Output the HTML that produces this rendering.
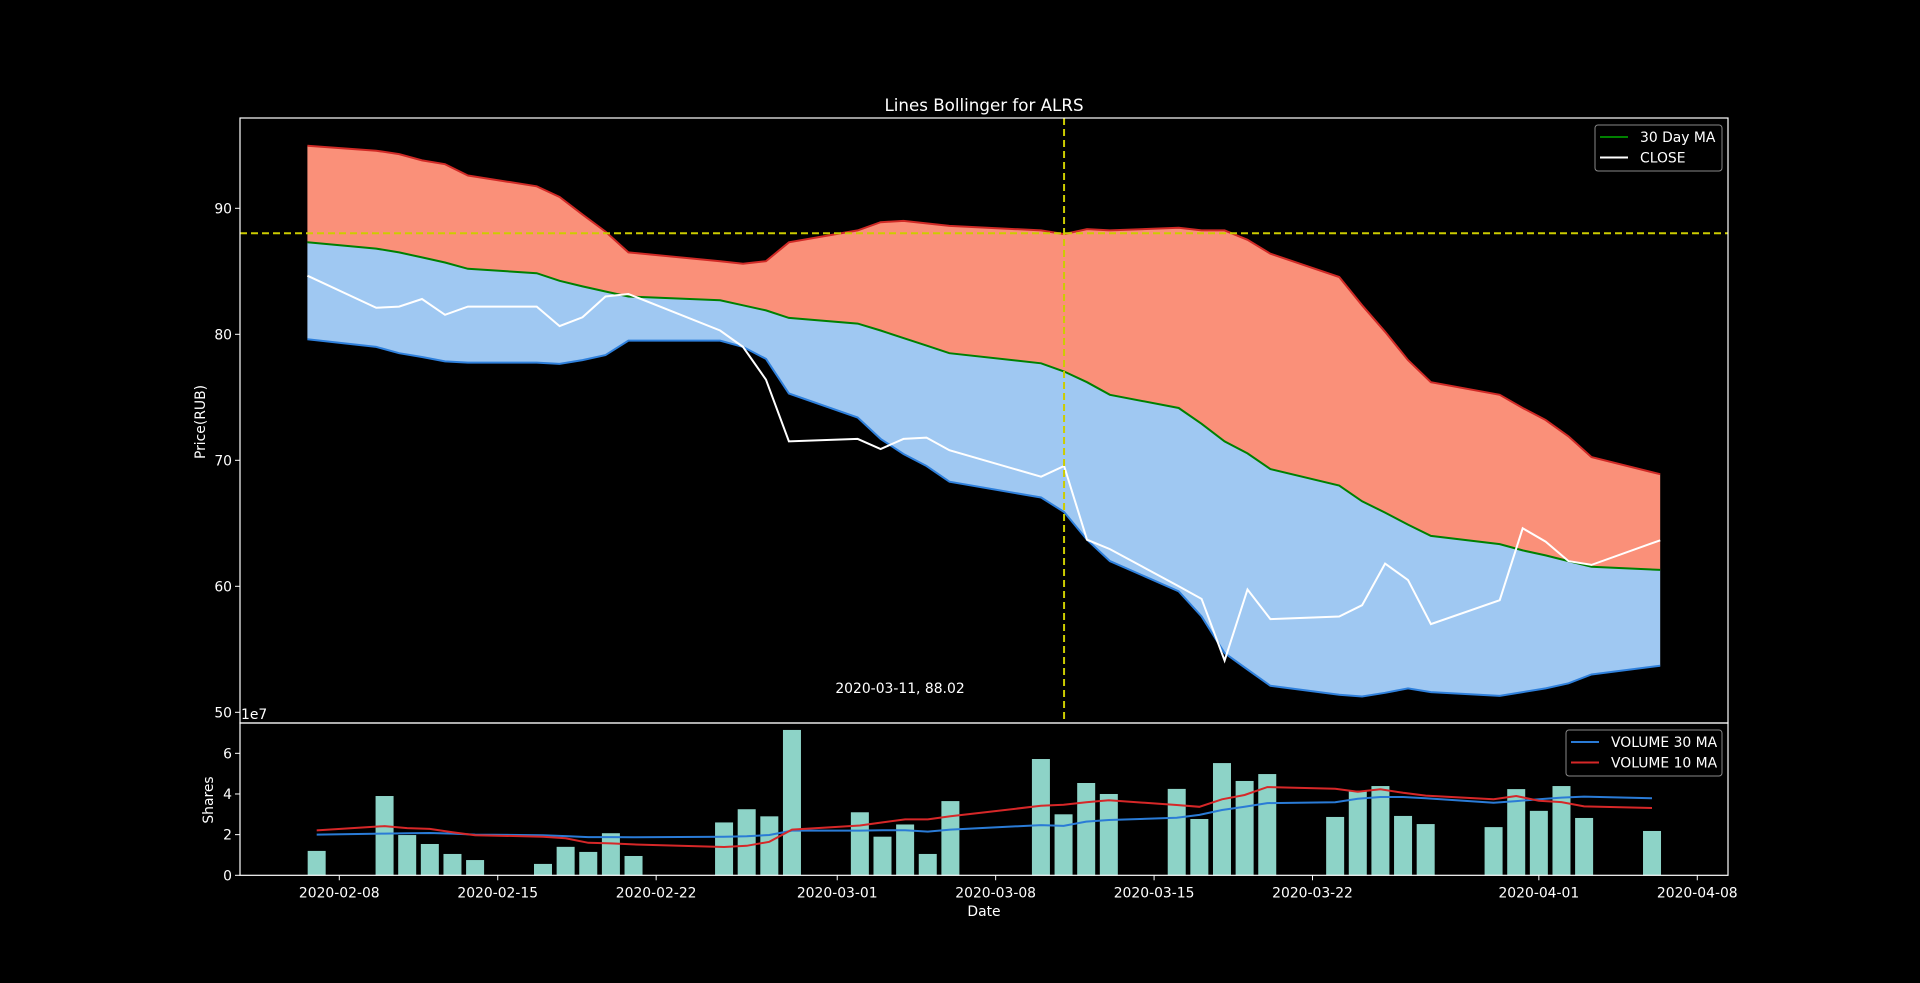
<!DOCTYPE html>
<html><head><meta charset="utf-8"><style>
html,body{margin:0;padding:0;background:#000;}
svg{display:block;font-family:"DejaVu Sans","Liberation Sans",sans-serif;}
</style></head><body>
<svg id="chart" width="1920" height="983" viewBox="0 0 1920 983" xmlns="http://www.w3.org/2000/svg">
<rect width="1920" height="983" fill="#000"/>
<g id="main"></g>
<g id="vol"></g>
<text x="984" y="111" fill="#fff" font-size="16.7" text-anchor="middle">Lines Bollinger for ALRS</text>
<text x="0" y="0" fill="#fff" font-size="13.9" text-anchor="middle" transform="translate(205,422) rotate(-90)">Price(RUB)</text>
<text x="0" y="0" fill="#fff" font-size="13.9" text-anchor="middle" transform="translate(213,800) rotate(-90)">Shares</text>
<text x="984" y="916" fill="#fff" font-size="13.9" text-anchor="middle">Date</text>
<text x="241" y="719" fill="#fff" font-size="13.9">1e7</text>
<text x="900" y="693" fill="#fff" font-size="13.9" text-anchor="middle">2020-03-11, 88.02</text>
</svg>
<script>
const dates=["2020-02-07","2020-02-10","2020-02-11","2020-02-12","2020-02-13","2020-02-14","2020-02-17","2020-02-18","2020-02-19","2020-02-20","2020-02-21","2020-02-25","2020-02-26","2020-02-27","2020-02-28","2020-03-02","2020-03-03","2020-03-04","2020-03-05","2020-03-06","2020-03-10","2020-03-11","2020-03-12","2020-03-13","2020-03-16","2020-03-17","2020-03-18","2020-03-19","2020-03-20","2020-03-23","2020-03-24","2020-03-25","2020-03-26","2020-03-27","2020-03-30","2020-03-31","2020-04-01","2020-04-02","2020-04-03","2020-04-06"];
const upper=[94.96,94.57,94.3,93.8,93.5,92.6,91.75,90.9,89.5,88.15,86.5,85.8,85.6,85.8,87.3,88.25,88.9,89.0,88.8,88.6,88.25,87.95,88.35,88.25,88.45,88.25,88.25,87.5,86.4,84.55,82.3,80.2,77.95,76.2,75.2,74.15,73.2,71.9,70.25,68.9];
const ma30=[87.3,86.8,86.5,86.1,85.7,85.2,84.85,84.25,83.8,83.4,83.0,82.7,82.3,81.9,81.3,80.85,80.3,79.7,79.1,78.5,77.7,77.05,76.2,75.2,74.15,72.9,71.5,70.55,69.3,68.0,66.75,65.85,64.9,64.0,63.35,62.85,62.45,62.0,61.55,61.3];
const lower=[79.6,79.0,78.5,78.2,77.85,77.75,77.75,77.65,77.95,78.35,79.5,79.5,79.0,78.05,75.3,73.4,71.7,70.5,69.55,68.3,67.05,65.9,63.7,62.0,59.6,57.6,54.7,53.4,52.1,51.4,51.25,51.55,51.9,51.6,51.3,51.6,51.9,52.3,53.0,53.7];
const closeP=[84.65,82.1,82.2,82.8,81.55,82.2,82.2,80.65,81.35,83.0,83.2,80.3,79.0,76.4,71.5,71.7,70.9,71.7,71.8,70.8,68.7,69.55,63.7,62.95,60.0,59.0,54.1,59.75,57.4,57.6,58.5,61.8,60.5,57.0,58.9,64.6,63.55,62.0,61.7,63.65];
const volume=[1.2,3.9,1.98,1.54,1.05,0.75,0.56,1.4,1.15,2.07,0.95,2.6,3.25,2.9,7.15,3.1,1.9,2.5,1.05,3.65,5.72,3.0,4.54,4.0,4.25,2.77,5.52,4.64,4.98,2.87,4.16,4.39,2.92,2.52,2.37,4.24,3.17,4.39,2.82,2.18];
const vol30=[2.0,2.05,2.07,2.08,2.05,2.0,1.97,1.93,1.88,1.88,1.87,1.9,1.92,1.98,2.2,2.2,2.22,2.22,2.15,2.25,2.47,2.43,2.64,2.72,2.83,2.97,3.21,3.37,3.55,3.59,3.77,3.85,3.85,3.79,3.57,3.65,3.74,3.82,3.87,3.79];
const vol10=[2.21,2.42,2.32,2.28,2.12,1.97,1.9,1.82,1.6,1.57,1.52,1.39,1.45,1.65,2.25,2.45,2.6,2.75,2.75,2.9,3.42,3.47,3.59,3.69,3.46,3.37,3.74,3.95,4.34,4.26,4.11,4.23,4.06,3.92,3.74,3.9,3.67,3.6,3.39,3.31];
const priceTicks=[50,60,70,80,90];
const volTicks=[0,2,4,6];
const dateTicks=["2020-02-08","2020-02-15","2020-02-22","2020-03-01","2020-03-08","2020-03-15","2020-03-22","2020-04-01","2020-04-08"];
const crossDate="2020-03-11", crossPrice=88.02;

const NS="http://www.w3.org/2000/svg";
const L=240,R=1728,T=118,MB=723,VB=875.3;
const base=Date.UTC(2020,1,8);
function dayOf(s){const p=s.split('-');return (Date.UTC(+p[0],+p[1]-1,+p[2])-base)/86400000;}
function X(s){return 339.3+dayOf(s)*22.633;}
function XP(s){return 330.3+dayOf(s)*22.93;}
function Y(v){return 208.3-(v-90)*12.6;}
function VY(v){return VB-v*20.33;}
function mk(tag,attrs,parent){const e=document.createElementNS(NS,tag);for(const k in attrs)e.setAttribute(k,attrs[k]);parent.appendChild(e);return e;}
const main=document.getElementById('main'), vol=document.getElementById('vol');
const pts=(arr,f,xf)=>arr.map((v,i)=>(xf||X)(dates[i]).toFixed(1)+','+f(v).toFixed(1));

let e=mk('polygon',{points:pts(upper,Y,XP).concat(pts(ma30,Y,XP).reverse()).join(' '),fill:'#fa9079'},main);


e=mk('polygon',{points:pts(ma30,Y,XP).concat(pts(lower,Y,XP).reverse()).join(' '),fill:'#9fc8f2'},main);


e=mk('polyline',{points:pts(upper,Y,XP).join(' '),fill:'none',stroke:'#d02a26','stroke-width':2},main);


e=mk('polyline',{points:pts(lower,Y,XP).join(' '),fill:'none',stroke:'#2f80dc','stroke-width':2},main);


e=mk('polyline',{points:pts(ma30,Y,XP).join(' '),fill:'none',stroke:'#008000','stroke-width':2},main);


e=mk('polyline',{points:pts(closeP,Y,XP).join(' '),fill:'none',stroke:'#fff','stroke-width':2},main);


const cx=XP(crossDate), cy=Y(crossPrice);
e=mk('line',{x1:L,x2:R,y1:cy,y2:cy,stroke:'#cccc00','stroke-width':2,'stroke-dasharray':'7,4'},main);


e=mk('line',{x1:cx,x2:cx,y1:T,y2:MB,stroke:'#cccc00','stroke-width':2,'stroke-dasharray':'7,4'},main);


e=mk('rect',{x:L,y:T,width:R-L,height:MB-T,fill:'none',stroke:'#fff','stroke-width':1.2},main);


priceTicks.forEach(v=>{
 const t=mk('line',{x1:L-5,x2:L,y1:Y(v),y2:Y(v),stroke:'#fff','stroke-width':1},main);
 
 
 const tx=mk('text',{x:L-8,y:Y(v)+5,fill:'#fff','font-size':13.9,'text-anchor':'end'},main);
 tx.textContent=v;
 
 
});
volume.forEach((v,i)=>{
 const b=mk('rect',{x:X(dates[i])-9,y:VY(v),width:18,height:VB-VY(v),fill:'#8dd3c7'},vol);
 
 
});
e=mk('polyline',{points:pts(vol30,VY).join(' '),fill:'none',stroke:'#2a7bd6','stroke-width':2},vol);


e=mk('polyline',{points:pts(vol10,VY).join(' '),fill:'none',stroke:'#d62728','stroke-width':2},vol);


e=mk('rect',{x:L,y:MB,width:R-L,height:VB-MB,fill:'none',stroke:'#fff','stroke-width':1.2},vol);


volTicks.forEach(v=>{
 const t=mk('line',{x1:L-5,x2:L,y1:VY(v),y2:VY(v),stroke:'#fff','stroke-width':1},vol);
 
 
 const tx=mk('text',{x:L-8,y:VY(v)+5,fill:'#fff','font-size':13.9,'text-anchor':'end'},vol);
 tx.textContent=v;
 
 
});
dateTicks.forEach(d=>{
 const x=X(d);
 const t=mk('line',{x1:x,x2:x,y1:VB,y2:VB+5,stroke:'#fff','stroke-width':1},vol);
 
 
 const tx=mk('text',{x:x,y:VB+22,fill:'#fff','font-size':13.9,'text-anchor':'middle'},vol);
 tx.textContent=d;
 
 
});
function legend(x,y,w,items,name){
 const g=mk('g',{},document.getElementById('chart'));
 
 
 mk('rect',{x:x,y:y,width:w,height:46,rx:3,fill:'#000',stroke:'#888','stroke-width':1},g);
 items.forEach((it,i)=>{
  const ly=y+12+i*20.5;
  mk('line',{x1:x+5,x2:x+33,y1:ly,y2:ly,stroke:it[1],'stroke-width':2},g);
  const tx=mk('text',{x:x+45,y:ly+5,fill:'#fff','font-size':13.9},g);
  tx.textContent=it[0];
  
  
 });
}
legend(1595,125,127,[["30 Day MA","#008000"],["CLOSE","#fff"]],'price-legend');
legend(1566,730,156,[["VOLUME 30 MA","#2a7bd6"],["VOLUME 10 MA","#d62728"]],'volume-legend');
</script>
</body></html>
